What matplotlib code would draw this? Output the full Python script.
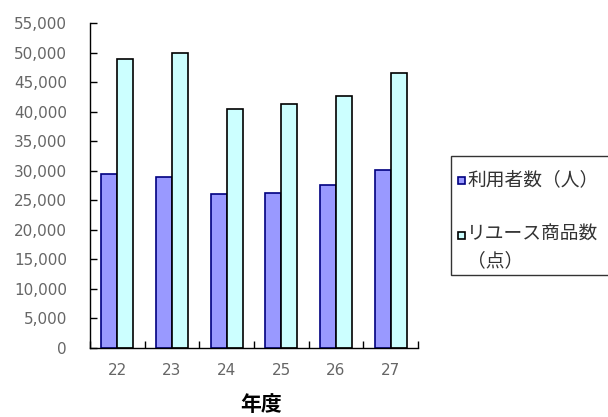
import matplotlib

matplotlib.use("Agg")
import matplotlib.pyplot as plt
import numpy as np
from matplotlib.patches import Rectangle

plt.rcParams["font.family"] = ["Noto Sans CJK JP", "DejaVu Sans"]

YEARS = ["22", "23", "24", "25", "26", "27"]
USERS = [29400, 28900, 26000, 26300, 27600, 30100]
ITEMS = [48900, 49900, 40500, 41300, 42700, 46600]
YTICKS = list(range(0, 55001, 5000))
SERIES_LABELS = ["利用者数（人）", "リユース商品数\n（点）"]

BLUE = "#9999FF"
BLUE_EDGE = "#000080"
CYAN = "#CCFFFF"
CYAN_EDGE = "#000000"

W, H = 608, 417


def fx(px):
    return px / W


def fy(py):
    return 1 - py / H


def main() -> None:
    fig = plt.figure(figsize=(6.08, 4.17), dpi=100)
    ax = fig.add_axes([fx(90), fy(348), fx(418) - fx(90), fy(23) - fy(348)])

    x = np.arange(len(YEARS))
    width = 0.29
    ax.bar(x - width / 2, USERS, width=width, color=BLUE, edgecolor=BLUE_EDGE, linewidth=1.2)
    ax.bar(x + width / 2, ITEMS, width=width, color=CYAN, edgecolor=CYAN_EDGE, linewidth=1.2)

    ax.set_xlim(-0.5, len(YEARS) - 0.5)
    ax.set_ylim(0, 55000)
    ax.set_yticks(YTICKS, [f"{v:,}" for v in YTICKS])
    ax.set_xticks(x, YEARS)
    ax.set_xticks(np.arange(len(YEARS) + 1) - 0.5, minor=True)

    for side in ("top", "right"):
        ax.spines[side].set_visible(False)
    ax.spines["left"].set_linewidth(1.0)
    ax.spines["bottom"].set_linewidth(1.0)
    ax.tick_params(axis="y", direction="in", length=5, width=1, pad=16.5, labelsize=11, labelcolor="#666666")
    ax.tick_params(axis="x", which="major", length=0, pad=11, labelsize=11, labelcolor="#666666")
    ax.tick_params(axis="x", which="minor", direction="in", length=5, width=1)
    for lbl in ax.get_yticklabels() + ax.get_xticklabels():
        lbl.set_fontfamily(["DejaVu Sans"])
    ax.set_xlabel("年度", fontsize=15, fontweight="bold", va="center")
    ax.xaxis.set_label_coords(0.521, -0.175)

    # legend box, drawn by hand so that it runs off the right edge like the original
    fig.patches.append(
        Rectangle((fx(451), fy(275)), fx(640) - fx(451), fy(156) - fy(275),
                  transform=fig.transFigure, facecolor="white", edgecolor="#333333", linewidth=1.0)
    )
    entries = [(BLUE, BLUE_EDGE, 180), (CYAN, CYAN_EDGE, 235)]
    for (face, edge, ypix), label in zip(entries, SERIES_LABELS):
        fig.patches.append(
            Rectangle((fx(458), fy(ypix + 4)), fx(7), 7 / H, transform=fig.transFigure,
                      facecolor=face, edgecolor=edge, linewidth=1.2)
        )
        fig.text(fx(467), fy(ypix), label, fontsize=13.5, color="#333333",
                 ha="left", va="top" if "\n" in label else "center",
                 linespacing=1.3)
    # the two-line label is top-anchored; nudge it so line one sits on the handle
    fig.texts[-1].set_y(fy(235 - 11))

    fig.savefig("out.png", dpi=100)
    plt.close(fig)


if __name__ == "__main__":
    main()
